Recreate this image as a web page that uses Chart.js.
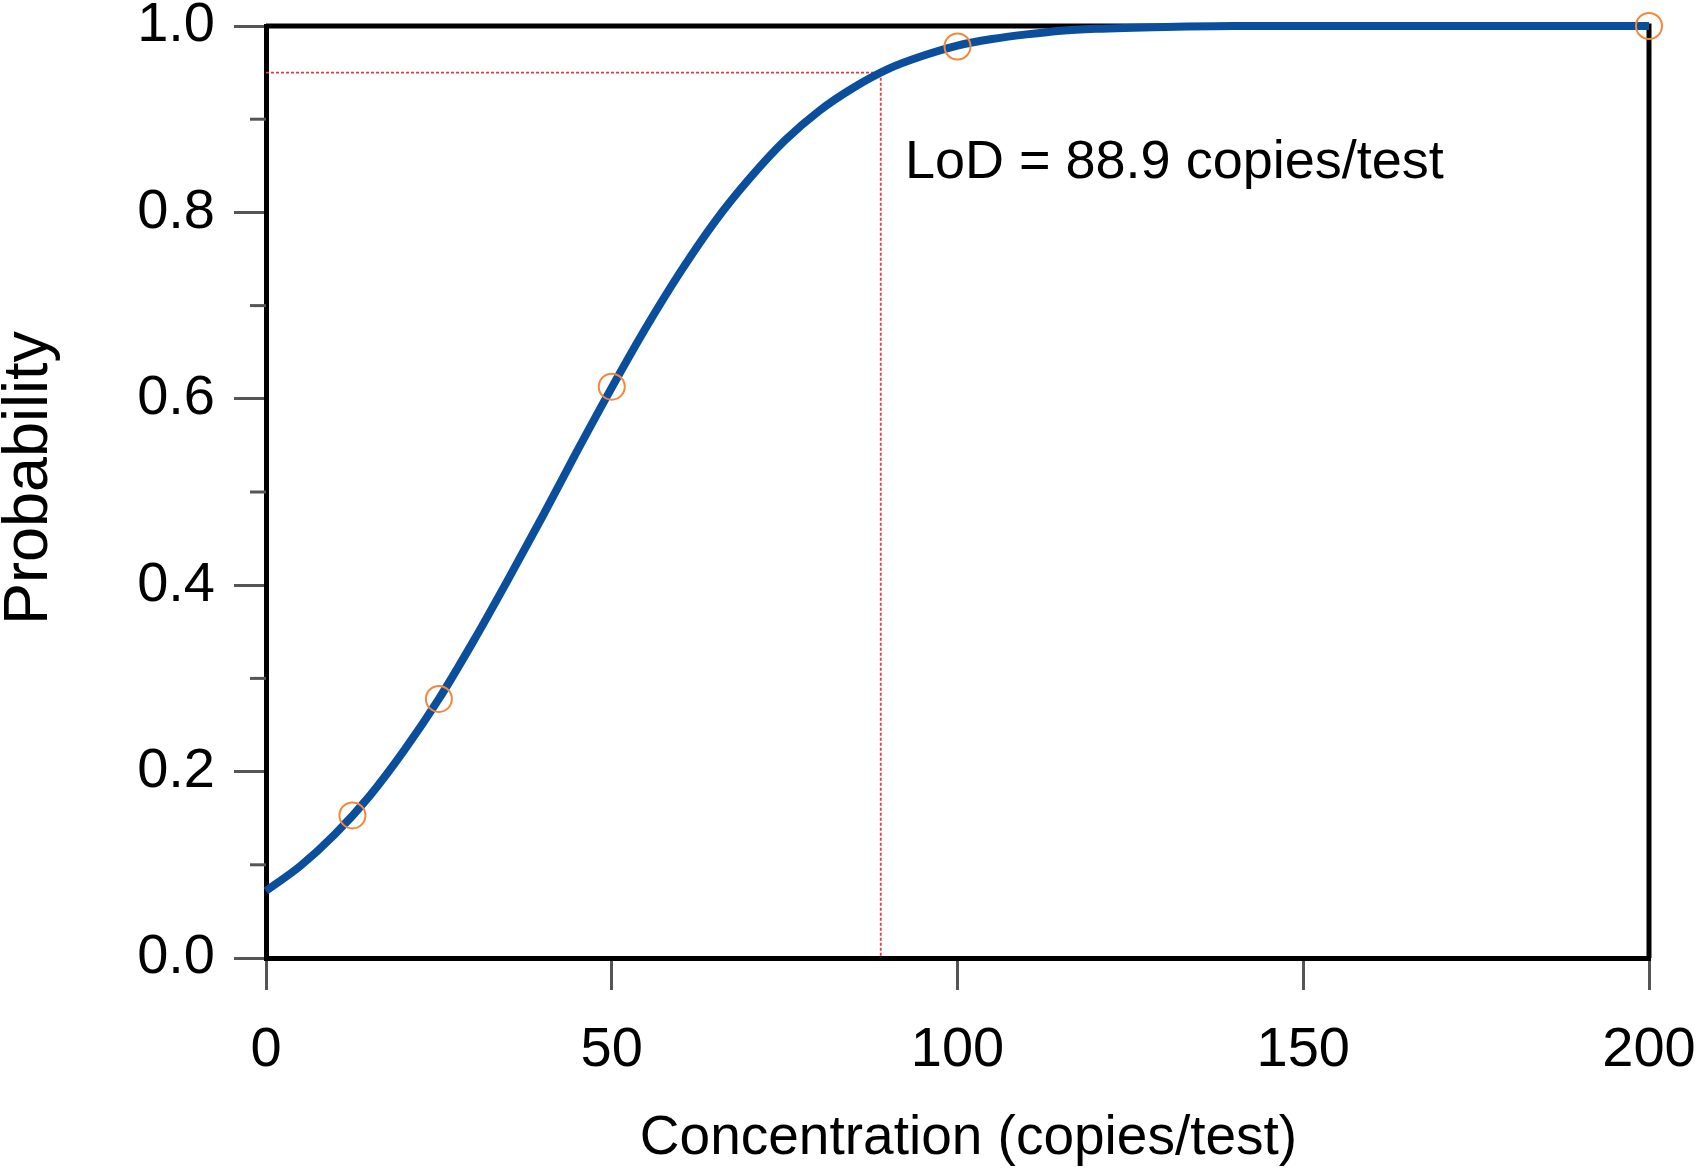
<!DOCTYPE html>
<html>
<head>
<meta charset="utf-8">
<script src="https://cdn.jsdelivr.net/npm/chart.js@4"></script>
<style>
  body { margin: 0; background: #fff; }
  #wrap { width: 1700px; height: 1170px; }
</style>
</head>
<body>
<div id="wrap"><canvas id="myChart" width="1700" height="1170"></canvas></div>
<script>
// observed hit rates
const concentrations = [12.5, 25, 50, 100, 200];
const hitRates = [0.153, 0.278, 0.613, 0.978, 1.0];

// fitted curve
const curveX = [0, 5, 10, 15, 20, 25, 30, 35, 40, 45, 50, 55, 60, 65, 70, 75, 80, 85, 90, 95, 100, 105, 110, 115, 120, 130, 140, 160, 200];
const curveY = [0.072, 0.099, 0.133, 0.174, 0.223, 0.278, 0.340, 0.406, 0.474, 0.544, 0.612, 0.677, 0.737, 0.791, 0.837, 0.877, 0.909, 0.934, 0.954, 0.968, 0.979, 0.986, 0.991, 0.995, 0.997, 0.999, 1.0, 1.0, 1.0];

const lodValue = 88.9;
const lodLevel = 0.95;
const lodText = 'LoD = 88.9 copies/test';

const yMinorTicks = [0.1, 0.3, 0.5, 0.7, 0.9];

const xTitle = 'Concentration (copies/test)';
const yTitle = 'Probability';

const FONT = "'Liberation Sans', Arial, sans-serif";

const frame = {
  id: 'frame',
  beforeDatasetsDraw(chart) {
    const { ctx, chartArea: a } = chart;
    const y = chart.scales.y;
    ctx.save();
    // top and right border
    ctx.strokeStyle = '#000';
    ctx.lineWidth = 5;
    ctx.beginPath();
    ctx.moveTo(a.left, a.top);
    ctx.lineTo(a.right, a.top);
    ctx.lineTo(a.right, a.bottom);
    ctx.stroke();
    // minor ticks on y
    ctx.strokeStyle = '#555';
    ctx.lineWidth = 3;
    yMinorTicks.forEach(v => {
      const py = y.getPixelForValue(v);
      ctx.beginPath();
      ctx.moveTo(a.left - 16, py);
      ctx.lineTo(a.left, py);
      ctx.stroke();
    });
    ctx.restore();
  },
  afterDatasetsDraw(chart) {
    const { ctx, chartArea: a } = chart;
    const x = chart.scales.x, y = chart.scales.y;
    ctx.save();
    ctx.fillStyle = '#000';
    ctx.textBaseline = 'middle';

    ctx.font = '54px ' + FONT;
    ctx.textAlign = 'left';
    ctx.fillText(lodText, x.getPixelForValue(92.4), y.getPixelForValue(0.853));

    // axis titles
    ctx.textAlign = 'center';
    ctx.font = '55px ' + FONT;
    ctx.fillText(xTitle, (a.left + a.right) / 2 + 11, a.bottom + 181);

    ctx.font = '63px ' + FONT;
    ctx.translate(30, (a.top + a.bottom) / 2 - 14);
    ctx.rotate(-Math.PI / 2);
    ctx.fillText(yTitle, 0, 0);
    ctx.restore();
  }
};

const ctx = document.getElementById('myChart');

new Chart(ctx, {
  type: 'scatter',
  data: {
    datasets: [{
      data: concentrations.map((c, i) => ({ x: c, y: hitRates[i] })),
      pointRadius: 13,
      pointBorderWidth: 2,
      pointBorderColor: '#f5873a',
      pointBackgroundColor: 'rgba(0,0,0,0)',
      showLine: false,
      clip: false
    }, {
      data: curveX.map((c, i) => ({ x: c, y: curveY[i] })),
      showLine: true,
      borderColor: '#0b4f9c',
      borderWidth: 8,
      pointRadius: 0,
      cubicInterpolationMode: 'monotone',
      clip: false
    }, {
      data: [{ x: 0, y: lodLevel }, { x: lodValue, y: lodLevel }, { x: lodValue, y: 0 }],
      showLine: true,
      borderColor: '#e63946',
      borderWidth: 1.8,
      borderDash: [3, 2],
      pointRadius: 0,
      clip: false
    }]
  },
  options: {
    responsive: false,
    animation: false,
    events: [],
    layout: { padding: { left: 0, right: 51, top: 26, bottom: 0 } },
    plugins: { legend: { display: false }, tooltip: { enabled: false } },
    scales: {
      x: {
        type: 'linear',
        min: 0,
        max: 200,
        afterFit(scale) {
          scale.height = 212;
          scale.paddingLeft = 0;
          scale.paddingRight = 0;
        },
        border: { color: '#000', width: 5 },
        grid: { drawOnChartArea: false, color: '#555', lineWidth: 3, tickLength: 32 },
        ticks: { stepSize: 50, color: '#000', padding: 27, font: { family: FONT, size: 56 }, maxRotation: 0 }
      },
      y: {
        min: 0,
        max: 1,
        afterFit(scale) {
          scale.width = 266;
          scale.paddingTop = 0;
          scale.paddingBottom = 0;
        },
        border: { color: '#000', width: 5 },
        grid: { drawOnChartArea: false, color: '#555', lineWidth: 3, tickLength: 32 },
        ticks: {
          stepSize: 0.2,
          color: '#000',
          padding: 19,
          font: { family: FONT, size: 56 },
          callback: v => v.toFixed(1)
        }
      }
    }
  },
  plugins: [frame]
});
</script>
</body>
</html>
